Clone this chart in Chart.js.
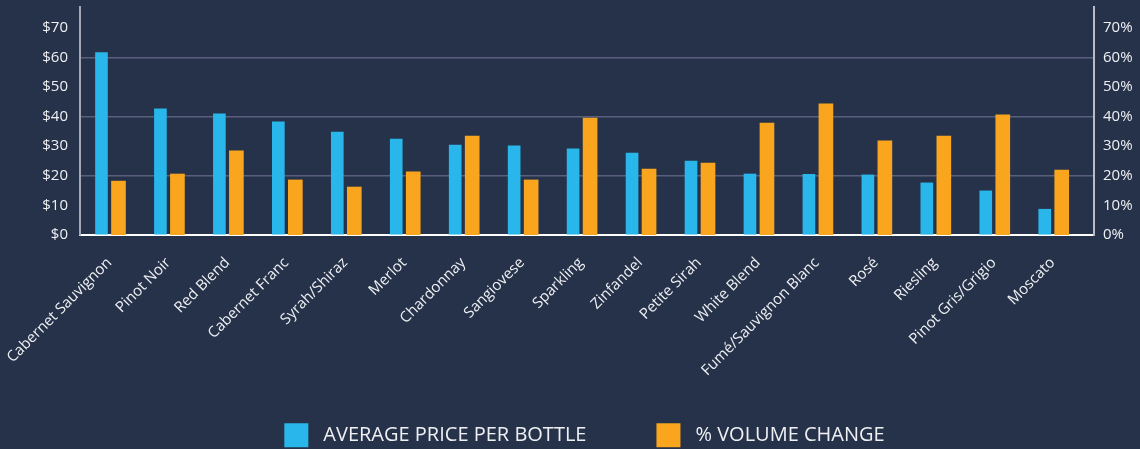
<!DOCTYPE html>
<html>
<head>
<meta charset="utf-8">
<script src="https://cdn.jsdelivr.net/npm/chart.js@4.4.1/dist/chart.umd.min.js"></script>
<style>
  html, body { margin: 0; padding: 0; background: #263249; }
  #wrap { width: 1140px; height: 449px; }
</style>
</head>
<body>
<div id="wrap"><canvas id="c" width="1140" height="449"></canvas></div>
<script>
const categories = ['Cabernet Sauvignon', 'Pinot Noir', 'Red Blend', 'Cabernet Franc', 'Syrah/Shiraz', 'Merlot',
  'Chardonnay', 'Sangiovese', 'Sparkling', 'Zinfandel', 'Petite Sirah', 'White Blend',
  'Fumé/Sauvignon Blanc', 'Rosé', 'Riesling', 'Pinot Gris/Grigio', 'Moscato'];
const avgPrice = [61.6, 42.6, 40.9, 38.2, 34.8, 32.4, 30.4, 30.1, 29.1, 27.7, 25.0, 20.6, 20.5, 20.3, 17.6, 14.9, 8.7];
const volumeChange = [18.2, 20.6, 28.4, 18.6, 16.2, 21.3, 33.4, 18.6, 39.5, 22.3, 24.3, 37.8, 44.3, 31.8, 33.4, 40.6, 21.9];
const priceTicks = [0, 10, 20, 30, 40, 50, 60, 70];
const pctTicks = [0, 10, 20, 30, 40, 50, 60, 70];
const seriesNames = ['AVERAGE PRICE PER BOTTLE', '% VOLUME CHANGE'];

const BG = '#263249';
const FONT = "'Open Sans', 'Noto Sans', sans-serif";
const TEXT = '#eef0f4';

const labelRoom = {
  id: 'labelRoom',
  afterLayout(ch) { ch.scales.x.bottom = ch.height; }
};

const chart = new Chart(document.getElementById('c'), {
  type: 'bar',
  plugins: [labelRoom],
  data: {
    datasets: [
      {
        label: seriesNames[0],
        data: avgPrice.map((v, i) => ({ x: i, y: v })),
        backgroundColor: '#29b6ea',
        barThickness: 16,
        maxBarThickness: 12,
        yAxisID: 'y'
      },
      {
        label: seriesNames[1],
        data: volumeChange.map((v, i) => ({ x: i, y: v })),
        backgroundColor: '#f9a61e',
        barThickness: 18,
        maxBarThickness: 14,
        yAxisID: 'y1'
      }
    ]
  },
  options: {
    responsive: false,
    animation: false,
    layout: { padding: { top: 7, left: 24, right: 0, bottom: 0 } },
    plugins: {
      tooltip: { enabled: false },
      legend: {
        position: 'bottom',
        maxHeight: 95.7,
        labels: {
          boxWidth: 34,
          boxHeight: 34,
          padding: 65,
          color: TEXT,
          font: { family: FONT, size: 20 },
          generateLabels: (ch) => Chart.defaults.plugins.legend.labels.generateLabels(ch).map(l => {
            l.lineWidth = 10;
            l.strokeStyle = BG;
            return l;
          })
        }
      }
    },
    scales: {
      x: {
        type: 'linear',
        offset: false,
        min: -0.5,
        max: 16.7,
        grid: { display: false, drawTicks: false, offset: false },
        border: { color: '#ffffff', width: 2 },
        afterBuildTicks: (s) => { s.ticks = categories.map((c, i) => ({ value: i })); },
        afterFit: (s) => { s.height = 118.3; s.paddingLeft = 0; s.paddingRight = 0; },
        ticks: {
          autoSkip: false,
          minRotation: 45,
          maxRotation: 45,
          padding: 19,
          color: TEXT,
          font: { family: FONT, size: 15 },
          callback: (v) => categories[v]
        }
      },
      y: {
        position: 'left',
        min: 0,
        max: 77,
        afterBuildTicks: (s) => { s.ticks = priceTicks.map(v => ({ value: v })); },
        afterFit: (s) => { s.width = 56; s.paddingTop = 0; s.paddingBottom = 0; },
        grid: {
          drawTicks: false,
          lineWidth: 1.5,
          color: (ctx) => (ctx.tick && ctx.tick.value > 0 && ctx.tick.value % 20 === 0) ? '#5a5e7e' : 'rgba(0,0,0,0)'
        },
        border: { color: '#a3a7b2', width: 2 },
        ticks: {
          padding: 12,
          color: TEXT,
          font: { family: FONT, size: 15 },
          callback: (v) => '$' + v
        }
      },
      y1: {
        position: 'right',
        min: 0,
        max: 77,
        afterBuildTicks: (s) => { s.ticks = pctTicks.map(v => ({ value: v })); },
        afterFit: (s) => { s.width = 46; s.paddingTop = 0; s.paddingBottom = 0; },
        grid: { display: false, drawTicks: false },
        border: { color: '#b9bcc6', width: 2 },
        ticks: {
          padding: 9,
          color: TEXT,
          font: { family: FONT, size: 15 },
          callback: (v) => v + '%'
        }
      }
    }
  }
});
</script>
</body>
</html>
